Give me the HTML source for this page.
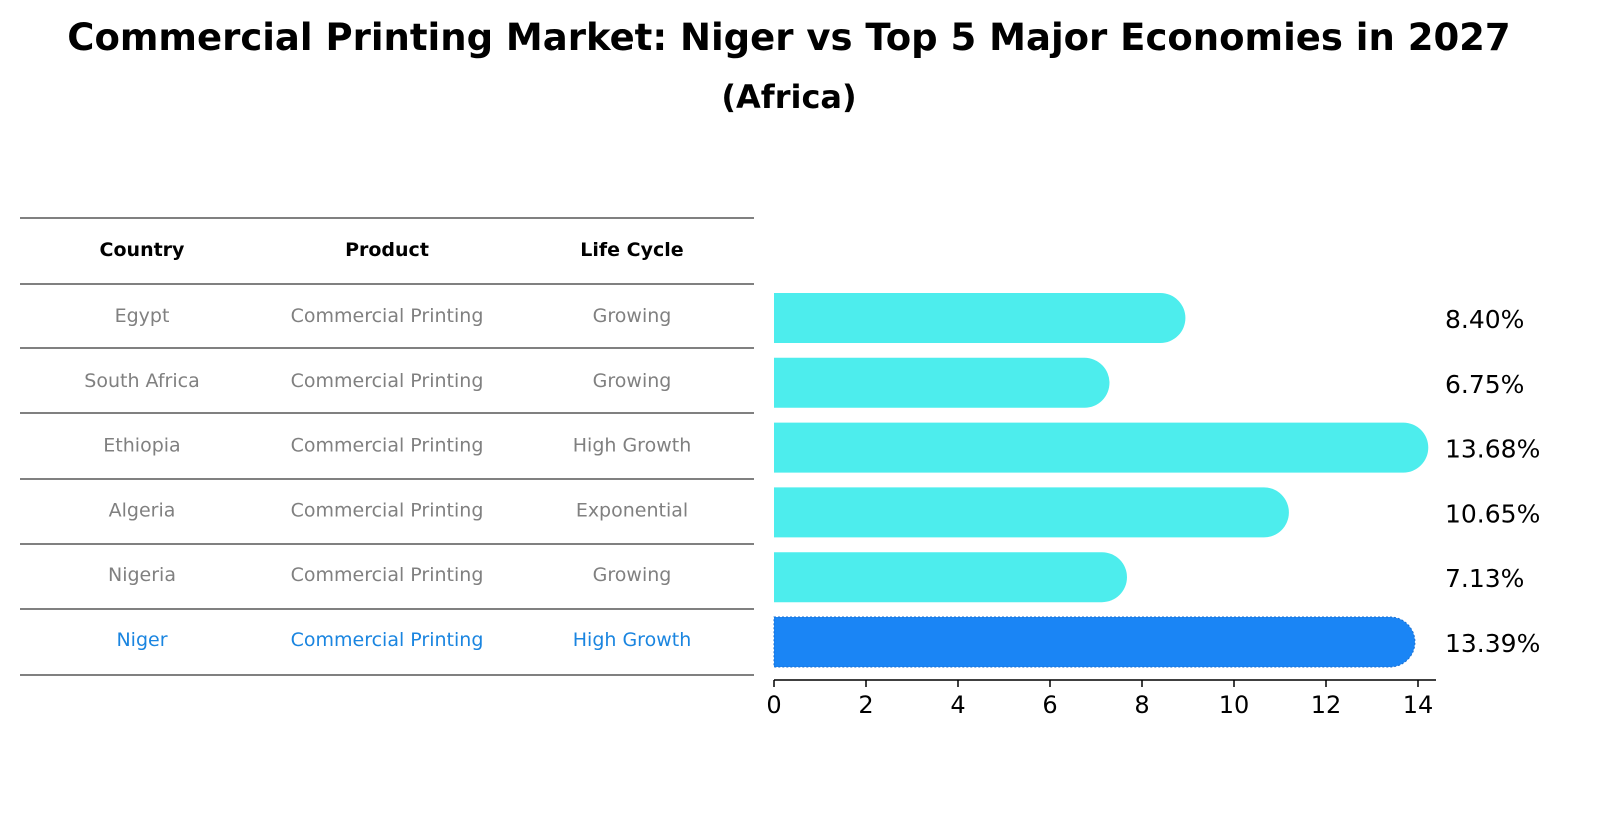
<!DOCTYPE html>
<html><head><meta charset="utf-8"><style>
body{margin:0;background:#fff;font-family:"DejaVu Sans","Liberation Sans",sans-serif;}
</style></head><body>
<svg width="1604" height="823" xmlns="http://www.w3.org/2000/svg" font-family="'DejaVu Sans', 'Liberation Sans', sans-serif">
<rect width="1604" height="823" fill="#fff"/>
<text x="789" y="50" text-anchor="middle" font-size="37" font-weight="bold">Commercial Printing Market: Niger vs Top 5 Major Economies in 2027</text>
<text x="789" y="108" text-anchor="middle" font-size="32" font-weight="bold">(Africa)</text>
<g id="table"></g>
<g id="bars"></g>
<g id="axis"></g>
</svg>
<script>
const countries=["Egypt","South Africa","Ethiopia","Algeria","Nigeria","Niger"];
const products=["Commercial Printing","Commercial Printing","Commercial Printing","Commercial Printing","Commercial Printing","Commercial Printing"];
const lifecycles=["Growing","Growing","High Growth","Exponential","Growing","High Growth"];
const values=[8.40,6.75,13.68,10.65,7.13,13.39];
const ticks=[0,2,4,6,8,10,12,14];
const NS="http://www.w3.org/2000/svg";
function mk(t,a,p,txt){const e=document.createElementNS(NS,t);for(const k in a)e.setAttribute(k,a[k]);if(txt!=null)e.textContent=txt;p.appendChild(e);return e;}
const x=v=>774+v*46;
const rowY=i=>316+i*64.8;
const tbl=document.getElementById('table');
const lines=[218,284,348,413,479,544,609,675];
lines.forEach((ly,i)=>{const l=mk('line',{x1:20,x2:754,y1:ly,y2:ly,stroke:'#000','stroke-width':1},tbl);

});
const cx=[142,387,632];
["Country","Product","Life Cycle"].forEach((h,j)=>{const t=mk('text',{x:cx[j],y:256,'text-anchor':'middle','font-size':19,'font-weight':'bold'},tbl,h);

});
countries.forEach((c,i)=>{const col=i===countries.length-1?'#1a85e0':'#808080';
[c,products[i],lifecycles[i]].forEach((v,j)=>{const t=mk('text',{x:cx[j],y:rowY(i)+6,'text-anchor':'middle','font-size':19,fill:col},tbl,v);

});});
const bars=document.getElementById('bars');
values.forEach((v,i)=>{const cy=rowY(i)+2,h=50,r=25,x0=x(0),x1=x(v);
const last=i===values.length-1;
const p=mk('path',{d:`M${x0},${cy-h/2}H${x1}A${r},${r} 0 0 1 ${x1},${cy+h/2}H${x0}Z`,fill:last?'#1a85f5':'#4deded',stroke:last?'#1a6fd0':'none','stroke-dasharray':last?'2,2':'none'},bars);


const t=mk('text',{x:1445,y:cy+10,'font-size':25},bars,v.toFixed(2)+'%');

});
const ax=document.getElementById('axis');
mk('line',{x1:774,x2:1436,y1:680,y2:680,stroke:'#000','stroke-width':1.5},ax);
ticks.forEach(tv=>{mk('line',{x1:x(tv),x2:x(tv),y1:680,y2:687,stroke:'#000','stroke-width':1.5},ax);
const t=mk('text',{x:x(tv),y:713,'text-anchor':'middle','font-size':24},ax,tv);

});
</script>
</body></html>
